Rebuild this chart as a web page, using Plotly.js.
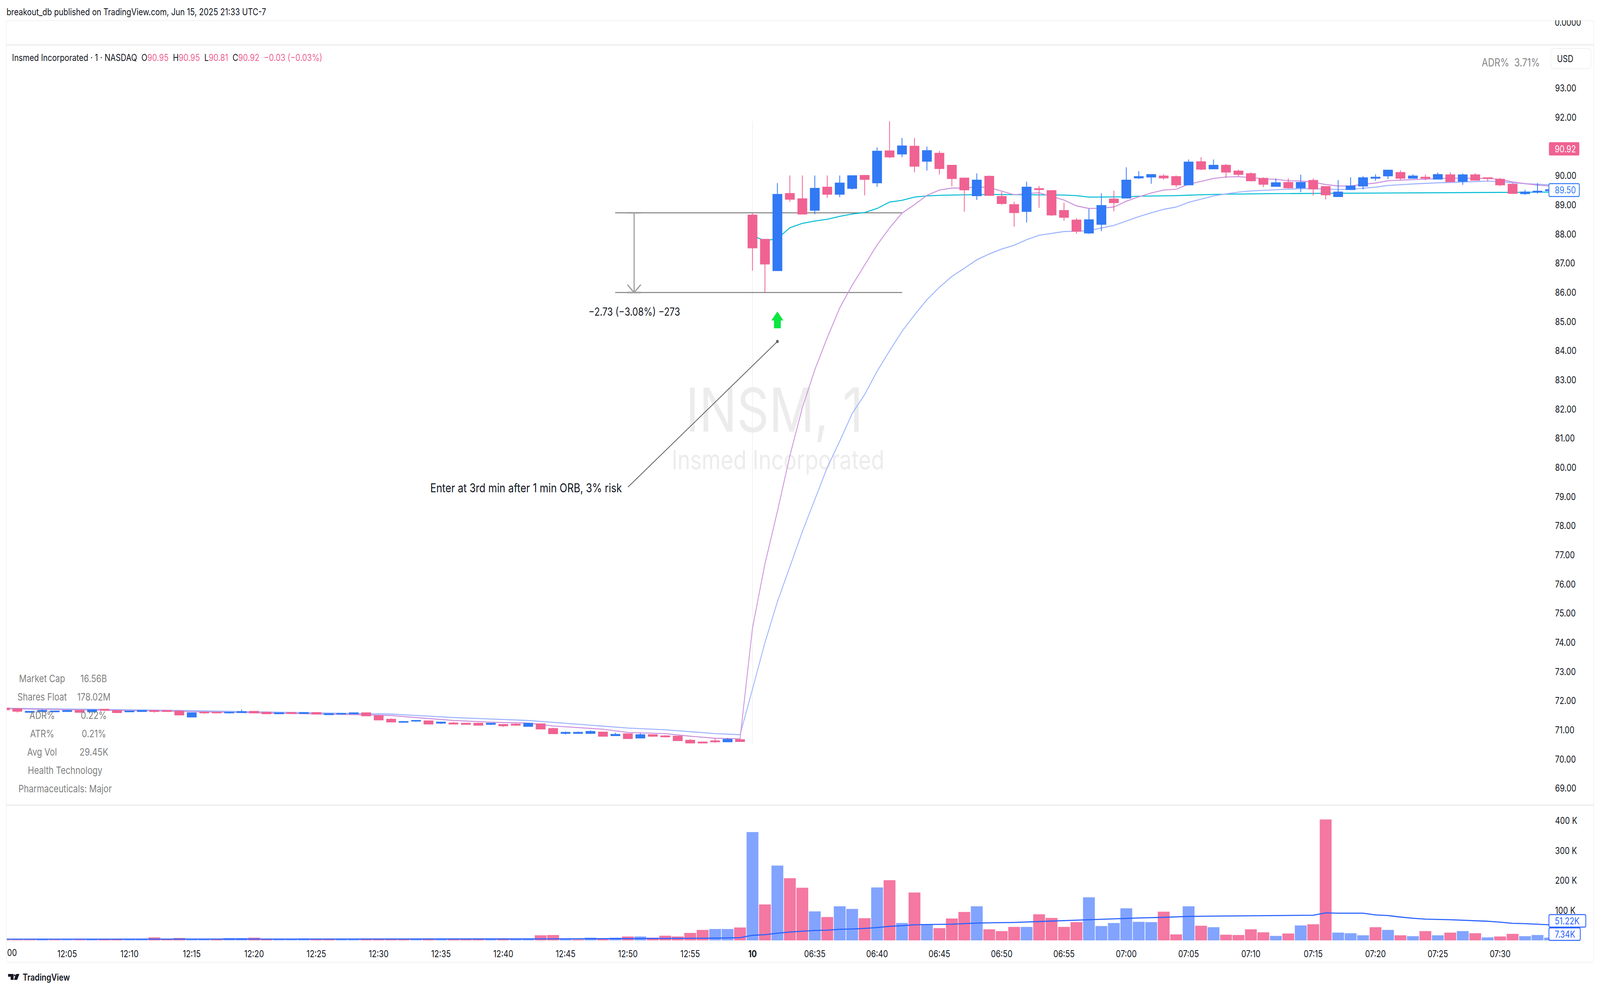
<!DOCTYPE html>
<html><head><meta charset="utf-8">
<script src="https://cdn.plot.ly/plotly-3.0.1.min.js"></script>
<style>html,body{margin:0;padding:0;background:#fff;overflow:hidden}#wrap{position:absolute;left:0;top:0;width:4950px;height:2534px;transform-origin:0 0}#c{position:absolute;left:0;top:0;width:4950px;height:2534px}#clip{position:absolute;left:4780px;top:0;width:140px;height:52px;background:#fff}</style>
</head><body><div id="wrap"><div id="c"></div><div id="clip"></div></div>
<script>
// the page is laid out at the reference's 4950×2534 and fitted to the window actually opened
document.getElementById('wrap').style.transform = 'scale(' + (window.innerWidth / 4950) + ',' + (window.innerHeight / 2534) + ')';
// ---------- data (bar index 0 = 06:30, the session open) ----------
const barIndex = [-60,-59,-58,-57,-56,-55,-54,-53,-52,-51,-50,-49,-48,-47,-46,-45,-44,-43,-42,-41,-40,-39,-38,-37,-36,-35,-34,-33,-32,-31,-30,-29,-28,-27,-26,-25,-24,-23,-22,-21,-20,-19,-18,-17,-16,-15,-14,-13,-12,-11,-10,-9,-8,-7,-6,-5,-4,-3,-2,-1,
 0,1,2,3,4,5,6,7,8,9,10,11,12,13,14,15,16,17,18,19,20,21,22,23,24,25,26,27,28,29,30,31,32,33,34,35,36,37,38,39,40,41,42,43,44,45,46,47,48,49,50,51,52,53,54,55,56,57,58,59,60,61,62,63,64];
const opens = [71.75,71.73,71.61,71.64,71.63,71.64,71.67,71.63,71.71,71.67,71.63,71.64,71.67,71.67,71.65,71.45,71.61,71.61,71.59,71.60,71.64,71.61,71.56,71.60,71.57,71.60,71.53,71.55,71.56,71.59,71.49,71.37,71.27,71.31,71.31,71.24,71.24,71.23,71.23,71.20,71.19,71.20,71.13,71.21,71.05,70.89,70.89,70.89,70.93,70.81,70.87,70.73,70.84,70.80,70.79,70.65,70.59,70.63,70.60,70.67,
 88.65,87.82,86.75,89.39,89.21,88.82,89.61,89.37,89.57,90.01,89.76,90.85,90.75,91.01,90.50,90.77,90.36,89.92,89.32,89.98,89.29,89.01,88.78,89.56,89.49,88.81,88.48,88.04,88.34,89.20,89.24,89.93,89.96,89.99,89.97,89.69,90.48,90.24,90.36,90.16,90.07,89.91,89.64,89.77,89.59,89.84,89.63,89.29,89.53,89.65,89.92,90.00,90.11,89.92,89.95,89.89,90.03,89.81,90.03,89.93,89.88,89.71,89.39,89.44,89.49];
const highs = [71.75,71.73,71.64,71.71,71.65,71.67,71.67,71.71,71.71,71.67,71.65,71.67,71.67,71.67,71.69,71.60,71.61,71.61,71.61,71.71,71.64,71.63,71.59,71.60,71.61,71.60,71.56,71.57,71.59,71.59,71.49,71.40,71.31,71.33,71.31,71.27,71.28,71.23,71.23,71.23,71.19,71.23,71.23,71.21,71.08,70.95,70.95,70.99,70.93,70.91,70.87,70.89,70.84,70.83,70.79,70.69,70.60,70.72,70.73,70.70,
 88.73,87.82,89.75,90.01,90.01,90.01,90.01,90.01,90.01,90.01,90.97,91.87,91.30,91.30,91.00,90.85,90.36,89.92,90.08,90.01,89.45,89.11,89.80,89.65,89.49,89.08,88.55,88.87,89.40,89.49,90.29,90.16,90.04,90.05,90.01,90.56,90.64,90.56,90.40,90.21,90.12,89.95,89.91,89.91,90.04,89.91,89.63,89.85,89.95,89.99,90.05,90.21,90.19,90.05,90.04,90.11,90.12,90.08,90.09,89.93,89.93,89.75,89.52,89.75,89.52];
const lows = [71.70,71.60,71.61,71.64,71.63,71.64,71.61,71.63,71.68,71.60,71.63,71.64,71.60,71.64,71.52,71.45,71.56,71.59,71.57,71.60,71.59,71.56,71.56,71.56,71.57,71.55,71.53,71.55,71.56,71.49,71.35,71.28,71.27,71.28,71.21,71.21,71.20,71.20,71.17,71.17,71.11,71.15,71.13,71.04,70.88,70.85,70.89,70.87,70.79,70.81,70.71,70.73,70.77,70.75,70.64,70.56,70.56,70.56,70.60,70.60,
 86.75,86.01,86.75,89.11,88.69,88.68,89.24,89.27,89.53,89.33,89.62,90.60,90.64,90.12,90.18,90.05,89.64,88.77,89.17,89.31,89.01,88.26,88.40,88.90,88.62,88.46,88.01,88.01,88.10,88.78,89.24,89.89,89.73,89.87,89.61,89.69,90.19,90.24,89.93,89.97,89.81,89.61,89.64,89.56,89.44,89.32,89.19,89.29,89.53,89.53,89.83,89.89,89.85,89.91,89.85,89.89,89.80,89.69,89.85,89.81,89.65,89.40,89.35,89.39,89.49];
const closes = [71.70,71.65,71.64,71.67,71.65,71.67,71.61,71.69,71.68,71.60,71.65,71.67,71.64,71.64,71.52,71.59,71.59,71.59,71.61,71.63,71.59,71.56,71.59,71.57,71.60,71.55,71.56,71.57,71.59,71.49,71.35,71.28,71.29,71.33,71.21,71.27,71.21,71.20,71.17,71.23,71.15,71.17,71.23,71.04,70.88,70.92,70.92,70.95,70.79,70.85,70.71,70.84,70.79,70.77,70.64,70.56,70.56,70.60,70.68,70.61,
 87.53,86.98,89.36,89.20,88.69,89.57,89.37,89.75,90.00,89.88,90.84,90.65,91.02,90.33,90.86,90.25,89.91,89.52,89.85,89.33,89.05,88.74,89.61,89.53,88.66,88.58,88.10,88.49,88.98,89.08,89.85,89.97,90.04,89.93,89.69,90.47,90.23,90.36,90.13,90.05,89.83,89.71,89.76,89.59,89.77,89.55,89.35,89.44,89.65,89.93,89.95,90.19,89.92,89.99,89.92,90.04,89.80,90.03,89.85,89.91,89.69,89.40,89.44,89.47,89.52];
const volumesK = [2,2,2,3,2,2,2,5,2.6,2.6,3,3,10,3,8,5,4,4,8,8,9,5,4,4,6.5,4,4,4,4,6.5,6.5,5,5,5,4,5,4,4,4,4,4,5,6.5,17,18,6.5,3,9,5.6,9,13,13,9,15.7,13,25,35,38,38,43,
 362,120,250,208,176,97,78,114,105,74,177,201,58,160,54,41,73,95,114,37,31,45,45,87,75,45,61,144,48,58,107,62,61,96,20,114,49,44,19,18,37,27,15,23,50,54,404,26,24,17,44,35,17,14,31,17,26,31,24,10,13,22,14,18,9];
// 1 = blue volume bar, 0 = pink volume bar
const volumeUp = [0,0,0,1,0,1,0,1,0,0,1,1,0,0,0,1,1,0,1,1,0,0,1,1,1,0,0,1,1,0,0,0,0,1,0,1,0,0,0,1,0,1,1,0,0,1,0,1,0,1,0,1,0,0,0,0,0,1,1,0,
 1,0,1,0,0,1,0,1,1,0,1,0,1,0,1,0,0,0,1,0,0,0,1,0,0,0,0,1,1,1,1,1,1,0,0,1,0,1,0,0,0,0,1,0,1,0,0,1,1,1,0,1,0,1,0,1,0,1,0,1,0,0,1,1,1];

const fastMaX = [-60,-47,-31,-29,-27,-24,-21,-18,-16,-14,-12,-10,-7,-5,-3,-1,0,1,2,3,4,5,6,7,8,9,10,11,12,13,14,15,16,17,18,19,20,21,22,23,24,25,26,27,28,29,30,31,32,33,34,35,36,37,38,39,40,41,42,43,44,45,46,47,48,49,50,51,52,53,54,55,56,57,58,59,60,61,62,63,64];
const fastMa = [71.73,71.65,71.52,71.50,71.43,71.33,71.27,71.24,71.14,71.08,71.03,70.92,70.88,70.79,70.72,70.70,74.5,76.7,78.5,80.4,82.05,83.35,84.45,85.47,86.25,86.94,87.63,88.21,88.72,89.01,89.33,89.51,89.58,89.58,89.62,89.60,89.47,89.35,89.39,89.42,89.29,89.17,88.97,88.88,88.89,88.93,89.13,89.28,89.41,89.51,89.54,89.71,89.81,89.91,89.96,89.97,89.94,89.90,89.88,89.83,89.82,89.78,89.70,89.65,89.65,89.71,89.75,89.83,89.85,89.87,89.88,89.90,89.92,89.92,89.91,89.91,89.88,89.79,89.73,89.68,89.65];
const slowMaX = [-60,-47,-31,-29,-24,-21,-18,-14,-10,-7,-3,-1,0,1,2,3,4,5,6,7,8,9,10,11,12,13,14,15,16,17,18,19,20,21,22,23,24,25,26,27,28,29,30,31,32,33,34,35,36,37,38,39,40,41,42,43,44,45,46,47,48,49,50,51,52,53,54,55,56,57,58,59,60,61,62,63,64];
const slowMa = [71.75,71.68,71.56,71.55,71.43,71.38,71.33,71.20,71.07,71.01,70.88,70.84,72.4,74.0,75.4,76.6,77.8,78.9,80.0,80.9,81.85,82.5,83.3,84.0,84.67,85.23,85.75,86.18,86.55,86.83,87.12,87.32,87.49,87.62,87.81,87.96,88.03,88.09,88.10,88.12,88.21,88.30,88.45,88.6,88.73,88.85,88.93,89.09,89.2,89.31,89.38,89.44,89.48,89.5,89.52,89.53,89.56,89.56,89.55,89.53,89.54,89.57,89.61,89.67,89.70,89.72,89.74,89.76,89.77,89.79,89.80,89.82,89.8,89.76,89.73,89.71,89.69];
const vwapX = [0,1,2,3,4,5,6,7,8,9,10,11,12,13,14,15,16,17,18,19,25,26,27,28,29,30,31,34,36,38,42,46,50,56,60,64];
const vwap = [87.95,87.77,87.85,88.22,88.37,88.45,88.51,88.61,88.69,88.74,88.88,89.10,89.16,89.27,89.31,89.33,89.34,89.35,89.36,89.36,89.34,89.32,89.27,89.27,89.27,89.28,89.30,89.32,89.35,89.37,89.39,89.40,89.41,89.43,89.44,89.44];
const volMaX = [-60,-16,-7,-3,-1,0,1,2,3,4,5,6,7,8,9,10,11,12,13,14,16,18,21,23,26,27,29,31,33,35,37,40,44,45,46,47,49,50,51,52,53,54,56,58,59,60,61,62,63,64];
const volMa = [4,5,6.5,7.5,9,17,19,24,28,31,33,34,37,38,40,43,47,49,52,53,54,58,60,63,67,69,72,75,77,80,81,82,83,84,92,91,91,85,83,78,74,71,69,66,64,61,57,56,54,52];

const priceTicks = [69,70,71,72,73,74,75,76,77,78,79,80,81,82,83,84,85,86,87,88,89,90,91,92,93];
const volumeTicks = [100,200,300,400];
const volumeTickText = ['100 K','200 K','300 K','400 K'];
const timeTicks = [-55,-50,-45,-40,-35,-30,-25,-20,-15,-10,-5,0,5,10,15,20,25,30,35,40,45,50,55,60];
const timeTickText = ['12:05','12:10','12:15','12:20','12:25','12:30','12:35','12:40','12:45','12:50','12:55','<b>10</b>','06:35','06:40','06:45','06:50','06:55','07:00','07:05','07:10','07:15','07:20','07:25','07:30'];
const infoLabels = ['Market Cap','Shares Float','ADR%','ATR%','Avg Vol'];
const infoValues = ['16.56B','178.02M','0.22%','0.21%','29.45K'];
const infoNotes = ['Health Technology','Pharmaceuticals: Major'];

const rangeHigh = 88.73, rangeLow = 86.00, rangeFromBar = -11.02, rangeToBar = 12.01, rangeArrowBar = -9.5;

// ---------- layout helpers ----------
const W = 4950, H = 2534;
const PINK = '#f06292', BLUE = '#3179f5', VPINK = '#f478a2', VBLUE = '#82a4ff';
const FONT = 'Inter, "Noto Sans", sans-serif';
const px = v => v / W, py = v => 1 - v / H;
const xRange = [(20 - 2328) / 38.55, (4792 - 2328) / 38.55];
const yRange = [68.425, 94.486];
const mainDomain = [py(2061), py(115)];
const plotDomain = [px(20), px(4792)];

function txt(text, x, y, size, color, anchor, extra) {
  return Object.assign({ text, xref:'paper', yref:'paper', x:px(x), y:py(y), xanchor:anchor||'left', yanchor:'middle',
    showarrow:false, font:{family:FONT,size,color}, borderpad:0, borderwidth:0 }, extra||{});
}
function rr(x0,y0,x1,y1,r,fill,line,lw) {
  const X=px, Y=py, p=`M${X(x0+r)},${Y(y0)} L${X(x1-r)},${Y(y0)} Q${X(x1)},${Y(y0)} ${X(x1)},${Y(y0+r)} L${X(x1)},${Y(y1-r)} Q${X(x1)},${Y(y1)} ${X(x1-r)},${Y(y1)} L${X(x0+r)},${Y(y1)} Q${X(x0)},${Y(y1)} ${X(x0)},${Y(y1-r)} L${X(x0)},${Y(y0+r)} Q${X(x0)},${Y(y0)} ${X(x0+r)},${Y(y0)} Z`;
  return {type:'path', xref:'paper', yref:'paper', path:p, fillcolor:fill, line:{color:line||fill,width:lw||0}, layer:'above'};
}
function hline(x0,x1,y,color,w){return {type:'line',xref:'paper',yref:'paper',x0:px(x0),x1:px(x1),y0:py(y),y1:py(y),line:{color,width:w},layer:'above'};}
function vline(x,y0,y1,color,w){return {type:'line',xref:'paper',yref:'paper',x0:px(x),x1:px(x),y0:py(y0),y1:py(y1),line:{color,width:w},layer:'above'};}
function dataLine(x0,y0,x1,y1,color,w,layer){return {type:'line',xref:'x',yref:'y',x0,x1,y0,y1,line:{color,width:w},layer:layer||'below'};}

// ---------- traces ----------
const traces = [
  {type:'scatter',mode:'text',x:[1.76],y:[81.74],text:['INSM, 1'],textposition:'middle center',textfont:{family:FONT,size:155,color:'#ececec'},hoverinfo:'skip',showlegend:false,xaxis:'x',yaxis:'y'},
  {type:'scatter',mode:'text',x:[2.05],y:[80.16],text:['Insmed Incorporated'],textposition:'middle center',textfont:{family:FONT,size:67,color:'#ececec'},hoverinfo:'skip',showlegend:false,xaxis:'x',yaxis:'y'},
  {type:'scatter',mode:'lines',x:vwapX,y:vwap,line:{color:'#00bcd4',width:2.6},hoverinfo:'skip',showlegend:false,xaxis:'x',yaxis:'y'},
  {type:'scatter',mode:'lines',x:slowMaX,y:slowMa,line:{color:'#9db4ff',width:2.6},hoverinfo:'skip',showlegend:false,xaxis:'x',yaxis:'y'},
  {type:'scatter',mode:'lines',x:fastMaX,y:fastMa,line:{color:'#cd93dd',width:2.6},hoverinfo:'skip',showlegend:false,xaxis:'x',yaxis:'y'},
  {type:'candlestick',x:barIndex,open:opens,high:highs,low:lows,close:closes,whiskerwidth:0,
    increasing:{line:{color:BLUE,width:2.4},fillcolor:BLUE},decreasing:{line:{color:PINK,width:2.4},fillcolor:PINK},
    hoverinfo:'skip',showlegend:false,xaxis:'x2',yaxis:'y3'},
  {type:'bar',x:barIndex,y:volumesK,width:0.95,marker:{color:volumeUp.map(u=>u?VBLUE:VPINK),line:{width:0}},hoverinfo:'skip',showlegend:false,xaxis:'x',yaxis:'y2'},
  {type:'scatter',mode:'lines',x:volMaX,y:volMa,line:{color:'#2962ff',width:2.8},hoverinfo:'skip',showlegend:false,xaxis:'x',yaxis:'y2'}
];

// ---------- shapes ----------
const shapes = [
  hline(20,4930,53,'#f2f2f2',2), hline(20,4930,115,'#ececec',3), hline(20,4930,2061,'#ececec',3), hline(20,4930,2463,'#f2f2f2',2),
  vline(20,53,2463,'#f2f2f2',2), vline(4930,53,2463,'#f2f2f2',2),
  dataLine(0,70.54,0,91.87,'#eeeeee',2),
  dataLine(rangeFromBar,rangeHigh,rangeToBar,rangeHigh,'#808080',2.5),
  dataLine(rangeFromBar,rangeLow,rangeToBar,rangeLow,'#808080',2.5),
  dataLine(rangeArrowBar,rangeHigh,rangeArrowBar,rangeLow,'#9e9e9e',3.5),
  dataLine(rangeArrowBar-0.54,rangeHigh,rangeArrowBar+0.54,rangeHigh,'#9e9e9e',4),
  dataLine(rangeArrowBar-0.54,rangeLow,rangeArrowBar+0.54,rangeLow,'#9e9e9e',4),
  dataLine(rangeArrowBar-0.54,rangeLow+0.27,rangeArrowBar,rangeLow,'#9e9e9e',3.5),
  dataLine(rangeArrowBar+0.54,rangeLow+0.27,rangeArrowBar,rangeLow,'#9e9e9e',3.5),
  dataLine(-9.99,79.33,2,84.32,'#5f5f5f',2.2,'above'),
  {type:'circle',xref:'x',yref:'y',xsizemode:'pixel',ysizemode:'pixel',xanchor:2,yanchor:84.32,x0:-4,x1:4,y0:-4,y1:4,fillcolor:'#5f5f5f',line:{width:0},layer:'above'},
  {type:'path',xref:'x',yref:'y',xsizemode:'pixel',ysizemode:'pixel',xanchor:2,yanchor:85.35,path:'M0,0 L18.5,-23 L10.5,-23 L10.5,-43 L-10.5,-43 L-10.5,-23 L-18.5,-23 Z',fillcolor:'#0be640',line:{width:0},layer:'above'},
  rr(4798,124,4922,176,10,'#ffffff','#f0f0f0',2),
  rr(4792,364,4886,398,4,PINK),
  rr(4792,470,4886,503,4,'#ffffff','#3179f5',2.5),
  rr(4792,2341,4906,2373,4,'#ffffff','#2962ff',2.5),
  rr(4792,2375,4889,2407,4,'#ffffff','#2962ff',2.5),
  // TradingView logo
  {type:'path',xref:'paper',yref:'paper',path:`M${px(25)},${py(2493)} L${px(42)},${py(2493)} L${px(42)},${py(2508)} L${px(33)},${py(2508)} L${px(33)},${py(2500)} L${px(25)},${py(2500)} Z`,fillcolor:'#131722',line:{width:0},layer:'above'},
  {type:'circle',xref:'paper',yref:'paper',x0:px(43),x1:px(48),y0:py(2499),y1:py(2494),fillcolor:'#131722',line:{width:0},layer:'above'},
  {type:'path',xref:'paper',yref:'paper',path:`M${px(50)},${py(2493)} L${px(60)},${py(2493)} L${px(53)},${py(2508)} L${px(43)},${py(2508)} Z`,fillcolor:'#131722',line:{width:0},layer:'above'}
];

// ---------- text ----------
const pk = s => `<span style="color:${PINK}">${s}</span>`;
const nb = '\u00a0';
const annotations = [
  txt('breakout_db published on TradingView.com, Jun 15, 2025 21:33 UTC-7',20,30,24,'#131722'),
  txt(`Insmed Incorporated · 1 · NASDAQ${nb}${nb}O${pk('90.95')}${nb}${nb}H${pk('90.95')}${nb}${nb}L${pk('90.81')}${nb}${nb}C${pk('90.92')}${nb}${nb}${pk('−0.03 (−0.03%)')}`,37,148,24,'#131722'),
  txt('ADR%\u00a0\u00a03.71%',4764,160,28,'#868686','right'),
  txt('USD',4817,150,24,'#131722'),
  txt('0.0000',4810,58,24,'#131722'),
  txt('90.92',4810,381,24,'#ffffff'),
  txt('89.50',4810,487,24,'#3179f5'),
  txt('51.22K',4810,2357,24,'#2962ff'),
  txt('7.34K',4810,2391,24,'#2962ff'),
  txt('−2.73 (−3.08%) −273',1821,798,28,'#131722'),
  txt('Enter at 3rd min after 1 min ORB, 3% risk',1331,1248,31,'#131722'),
  txt('00',22,2438,24,'#131722'),
  txt('TradingView',70,2501,24,'#131722','left',{font:{family:FONT,size:24,color:'#131722',weight:600}})
];
infoLabels.forEach((t,i)=>{
  annotations.push(txt(t,130,1736+47*i,26,'#808080','center'));
  annotations.push(txt(infoValues[i],290,1736+47*i,26,'#808080','center'));
});
infoNotes.forEach((t,i)=>annotations.push(txt(t,201,1971+47*i,26,'#808080','center')));

const layout = {
  width:W,height:H,margin:{l:0,r:0,t:0,b:0,pad:0},paper_bgcolor:'#fff',plot_bgcolor:'rgba(0,0,0,0)',
  showlegend:false,barmode:'overlay',boxgap:0.28,boxgroupgap:0,
  font:{family:FONT,size:24,color:'#131722'},
  xaxis:{domain:plotDomain,range:xRange,anchor:'y2',tickmode:'array',tickvals:timeTicks,ticktext:timeTickText,showgrid:false,zeroline:false,showline:false,ticks:'',ticklabelstandoff:18,tickfont:{family:FONT,size:24,color:'#131722'},rangeslider:{visible:false},tickangle:0},
  xaxis2:{domain:plotDomain,range:xRange,anchor:'y3',overlaying:'x',visible:false,rangeslider:{visible:false}},
  yaxis:{domain:mainDomain,range:yRange,anchor:'x',side:'right',tickmode:'array',tickvals:priceTicks,tickformat:'.2f',showgrid:false,zeroline:false,showline:false,ticks:'',ticklabelstandoff:18,tickfont:{family:FONT,size:24,color:'#131722'}},
  yaxis3:{domain:mainDomain,range:yRange,anchor:'x2',overlaying:'y',side:'right',visible:false},
  yaxis2:{domain:[py(2407),py(2065)],range:[0,446.5],anchor:'x',side:'right',tickmode:'array',tickvals:volumeTicks,ticktext:volumeTickText,showgrid:false,zeroline:false,showline:false,ticks:'',ticklabelstandoff:18,tickfont:{family:FONT,size:24,color:'#131722'}},
  shapes,annotations
};
Plotly.newPlot('c',traces,layout,{displayModeBar:false,staticPlot:true});
</script></body></html>
